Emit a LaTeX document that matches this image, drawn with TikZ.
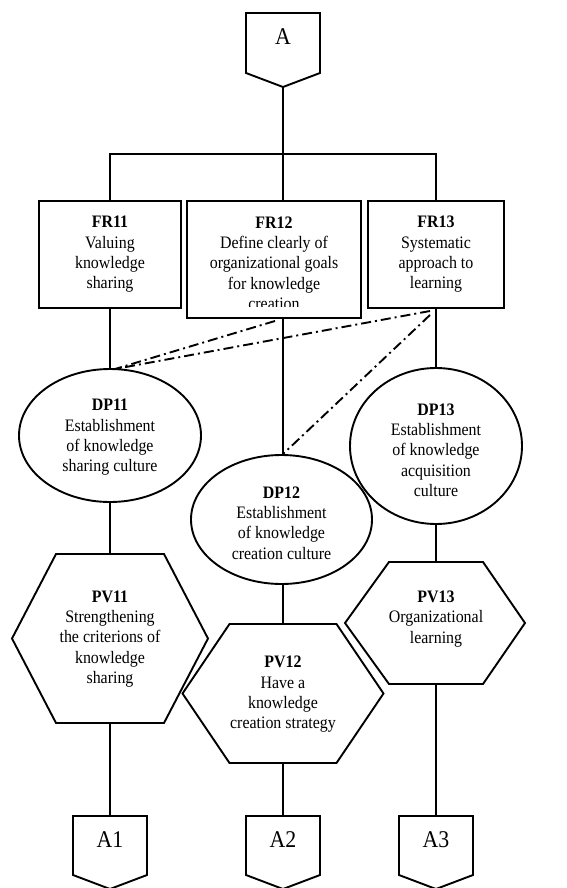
\documentclass[tikz,border=0pt]{standalone}
\usepackage{fontspec}
\setmainfont{Liberation Serif}[FakeStretch=0.91]
\usetikzlibrary{shapes.geometric}
\begin{document}
\begin{tikzpicture}[x=1pt,y=-1pt,
  ln/.style={line width=1.9pt, line join=miter},
  dd/.style={line width=1.9pt, dash pattern=on 10pt off 4pt on 2pt off 4pt},
  lbl/.style={align=center, inner sep=0pt, font=\fontsize{17.5}{20.3}\selectfont},
  box/.style={ln, draw, rectangle, inner sep=0pt},
  oval/.style={ln, draw, ellipse, inner sep=0pt},
  conn/.style={font=\fontsize{24}{28}\selectfont, inner sep=0pt},
]
\useasboundingbox (0,0) rectangle (567,888);

% off-page connectors
\draw[ln] (246,13) -- (320,13) -- (320,73) -- (283,87) -- (246,73) -- cycle;
\coordinate (atip) at (283,87);
\node[conn] (a) at (283,37) {A};

\draw[ln] (73,816) -- (147,816) -- (147,875) -- (110,889) -- (73,875) -- cycle;
\coordinate (a1top) at (110,816);
\node[conn] (a1) at (110,840) {A1};

\draw[ln] (246,816) -- (320,816) -- (320,875) -- (283,889) -- (246,875) -- cycle;
\coordinate (a2top) at (283,816);
\node[conn] (a2) at (283,840) {A2};

\draw[ln] (399,816) -- (473,816) -- (473,875) -- (436,889) -- (399,875) -- cycle;
\coordinate (a3top) at (436,816);
\node[conn] (a3) at (436,840) {A3};

% functional requirements
\node[box, lbl, minimum width=142pt, minimum height=107pt] (fr11) at (110,254.5)
  {\textbf{FR11}\\Valuing\\knowledge\\sharing};
\node[box, minimum width=174pt, minimum height=117pt] (fr12) at (274,259.5) {};
\begin{scope}
  \clip (188,202) rectangle (360,306.5);
  \node[lbl] (fr12t) at (274,263)
    {\textbf{FR12}\\Define clearly of\\organizational goals\\for knowledge\\creation};
\end{scope}
\node[box, lbl, minimum width=136pt, minimum height=107pt] (fr13) at (436,254.5)
  {\textbf{FR13}\\Systematic\\approach to\\learning};

% design parameters
\node[oval, minimum width=182pt, minimum height=133pt] (dp11) at (110,435.5) {};
\node[lbl] (dp11t) at (110,437.5) {\textbf{DP11}\\Establishment\\of knowledge\\sharing culture};
\node[oval, minimum width=181pt, minimum height=129pt] (dp12) at (281.5,519.5) {};
\node[lbl] (dp12t) at (281.5,523) {\textbf{DP12}\\Establishment\\of knowledge\\creation culture};
\node[oval, minimum width=172pt, minimum height=156pt] (dp13) at (436,446) {};
\node[lbl] (dp13t) at (436,450) {\textbf{DP13}\\Establishment\\of knowledge\\acquisition\\culture};

% process variables
\draw[ln] (56,554) -- (164,554) -- (208,638.5) -- (164,723) -- (56,723) -- (12,638.5) -- cycle;
\coordinate (pv11top) at (110,554);
\coordinate (pv11bot) at (110,723);
\node[lbl] (pv11) at (110,639) {\textbf{PV11}\\Strengthening\\the criterions of\\knowledge\\sharing};

\draw[ln] (229.5,624) -- (336.5,624) -- (383.5,693.5) -- (336.5,763) -- (229.5,763) -- (182.5,693.5) -- cycle;
\coordinate (pv12top) at (283,624);
\coordinate (pv12bot) at (283,763);
\node[lbl] (pv12) at (283,694.5) {\textbf{PV12}\\Have a\\knowledge\\creation strategy};

\draw[ln] (389,562) -- (483,562) -- (525,623) -- (483,684) -- (389,684) -- (345,623) -- cycle;
\coordinate (pv13top) at (436,562);
\coordinate (pv13bot) at (436,684);
\node[lbl] (pv13) at (436,619) {\textbf{PV13}\\Organizational\\learning};

% tree connectors
\coordinate (bar) at (283,154);
\draw[ln] (atip) -- (bar);
\draw[ln] (fr11.north) -- (fr11.north |- bar) -- (fr13.north |- bar) -- (fr13.north);
\draw[ln] (bar) -- (bar |- fr12.north);
\draw[ln] (fr11.south) -- (dp11.north);
\draw[ln] (bar |- fr12.south) -- (bar |- dp12.north);
\draw[ln] (fr13.south) -- (dp13.north);
\draw[ln] (dp11.south) -- (pv11top);
\draw[ln] (bar |- dp12.south) -- (pv12top);
\draw[ln] (dp13.south) -- (pv13top);
\draw[ln] (pv11bot) -- (a1top);
\draw[ln] (pv12bot) -- (a2top);
\draw[ln] (pv13bot) -- (a3top);

% coupling links
\coordinate (c1) at (275,321);
\coordinate (c2) at (430,311);
\coordinate (c3) at (430,315);
\coordinate (e1) at (115,369);
\draw[dd] (c1) -- (e1);
\draw[dd] (c2) -- (e1);
\draw[dd] (c3) -- (bar |- dp12.north);
\end{tikzpicture}
\end{document}
